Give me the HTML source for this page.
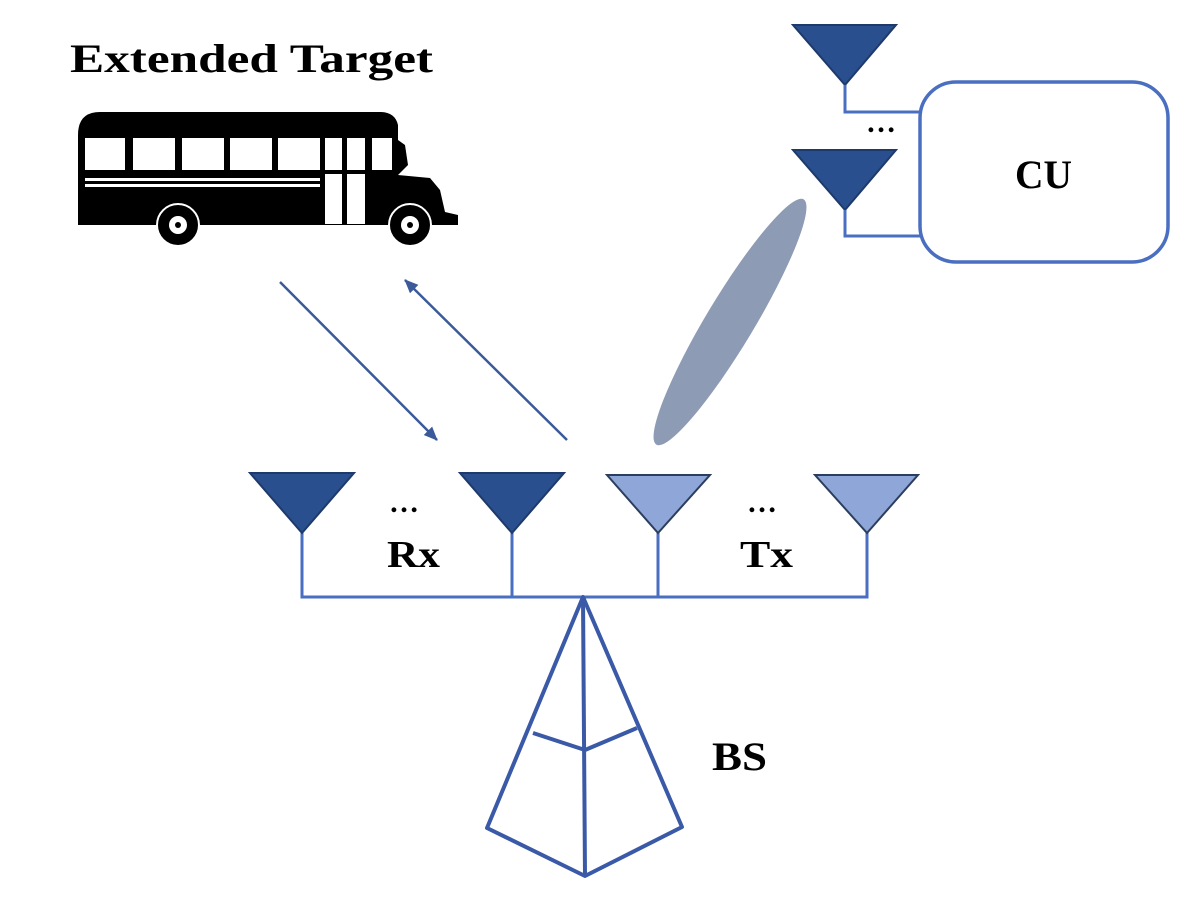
<!DOCTYPE html>
<html><head><style>
body{margin:0;background:#fff;}
svg{display:block}
text{font-family:"Liberation Serif",serif;font-weight:bold;fill:#000}
</style></head><body>
<svg width="1184" height="898" viewBox="0 0 1184 898" xmlns="http://www.w3.org/2000/svg">
<defs>
<marker id="ah" markerWidth="14" markerHeight="12" refX="13" refY="6" orient="auto" markerUnits="userSpaceOnUse">
<path d="M0,0 L14,6 L0,12 z" fill="#3a5a9a"/></marker>
</defs>
<text x="70" y="72" font-size="40" textLength="363" lengthAdjust="spacingAndGlyphs">Extended Target</text>
<!-- bus -->
<g>
<path d="M78,220 L78,135 Q78,112 100,112 L380,112 Q395,112 398,125 L398,140 L405,145 L408,165 L398,175 L430,178 L440,190 L445,212 L458,215 L458,225 L78,225 z" fill="#000"/>
<rect x="85" y="138" width="40" height="32" fill="#fff"/>
<rect x="133" y="138" width="42" height="32" fill="#fff"/>
<rect x="182" y="138" width="42" height="32" fill="#fff"/>
<rect x="230" y="138" width="42" height="32" fill="#fff"/>
<rect x="278" y="138" width="42" height="32" fill="#fff"/>
<rect x="325" y="138" width="17" height="32" fill="#fff"/>
<rect x="347" y="138" width="18" height="32" fill="#fff"/>
<rect x="372" y="138" width="20" height="32" fill="#fff"/>
<rect x="325" y="174" width="17" height="50" fill="#fff"/>
<rect x="347" y="174" width="18" height="50" fill="#fff"/>
<rect x="85" y="178" width="235" height="3" fill="#fff"/>
<rect x="85" y="184" width="235" height="3" fill="#fff"/>
<circle cx="178" cy="225" r="21" fill="#000" stroke="#fff" stroke-width="2"/>
<circle cx="178" cy="225" r="9" fill="#fff"/><circle cx="178" cy="225" r="3" fill="#000"/>
<circle cx="410" cy="225" r="21" fill="#000" stroke="#fff" stroke-width="2"/>
<circle cx="410" cy="225" r="9" fill="#fff"/><circle cx="410" cy="225" r="3" fill="#000"/>
</g>
<!-- arrows -->
<line x1="280" y1="282" x2="437" y2="440" stroke="#3a5a9a" stroke-width="2.5" marker-end="url(#ah)"/>
<line x1="567" y1="440" x2="405" y2="280" stroke="#3a5a9a" stroke-width="2.5" marker-end="url(#ah)"/>
<!-- beam -->
<ellipse cx="730" cy="322" rx="24" ry="143" fill="#8e9bb5" transform="rotate(31 730 322)"/>
<!-- CU -->
<rect x="920" y="82" width="248" height="180" rx="36" fill="#fff" stroke="#4a6fc0" stroke-width="3.5"/>
<text x="1015" y="188" font-size="40" textLength="57" lengthAdjust="spacingAndGlyphs">CU</text>
<polygon points="793,25 896,25 845,85" fill="#2a4f8f" stroke="#1e3a6a" stroke-width="2"/>
<polygon points="793,150 896,150 845,210" fill="#2a4f8f" stroke="#1e3a6a" stroke-width="2"/>
<polyline points="845,85 845,112 920,112" fill="none" stroke="#4a6fc0" stroke-width="3"/>
<polyline points="845,210 845,236 920,236" fill="none" stroke="#4a6fc0" stroke-width="3"/>
<text x="866" y="132" font-size="30">…</text>
<!-- array -->
<polyline points="302,533 302,597 867,597 867,533" fill="none" stroke="#4a6fc0" stroke-width="3"/>
<line x1="512" y1="533" x2="512" y2="597" stroke="#4a6fc0" stroke-width="3"/>
<line x1="658" y1="533" x2="658" y2="597" stroke="#4a6fc0" stroke-width="3"/>
<polygon points="250,473 354,473 302,533" fill="#2a4f8f" stroke="#1e3a6a" stroke-width="2"/>
<polygon points="460,473 564,473 512,533" fill="#2a4f8f" stroke="#1e3a6a" stroke-width="2"/>
<polygon points="607,475 710,475 658,533" fill="#8ea6d8" stroke="#2c3e5e" stroke-width="2"/>
<polygon points="815,475 918,475 867,533" fill="#8ea6d8" stroke="#2c3e5e" stroke-width="2"/>
<text x="389" y="512" font-size="30">…</text>
<text x="747" y="512" font-size="30">…</text>
<text x="387" y="567" font-size="38" textLength="53" lengthAdjust="spacingAndGlyphs">Rx</text>
<text x="740" y="567" font-size="38" textLength="53" lengthAdjust="spacingAndGlyphs">Tx</text>
<!-- tower -->
<g fill="none" stroke="#3a5aa8" stroke-width="4" stroke-linejoin="round">
<polygon points="583,597 682,827 585,876 487,828"/>
<line x1="583" y1="597" x2="585" y2="876"/>
<polyline points="533,733 585,750 637,728"/>
</g>
<text x="712" y="770" font-size="40" textLength="55" lengthAdjust="spacingAndGlyphs">BS</text>
</svg>
</body></html>
